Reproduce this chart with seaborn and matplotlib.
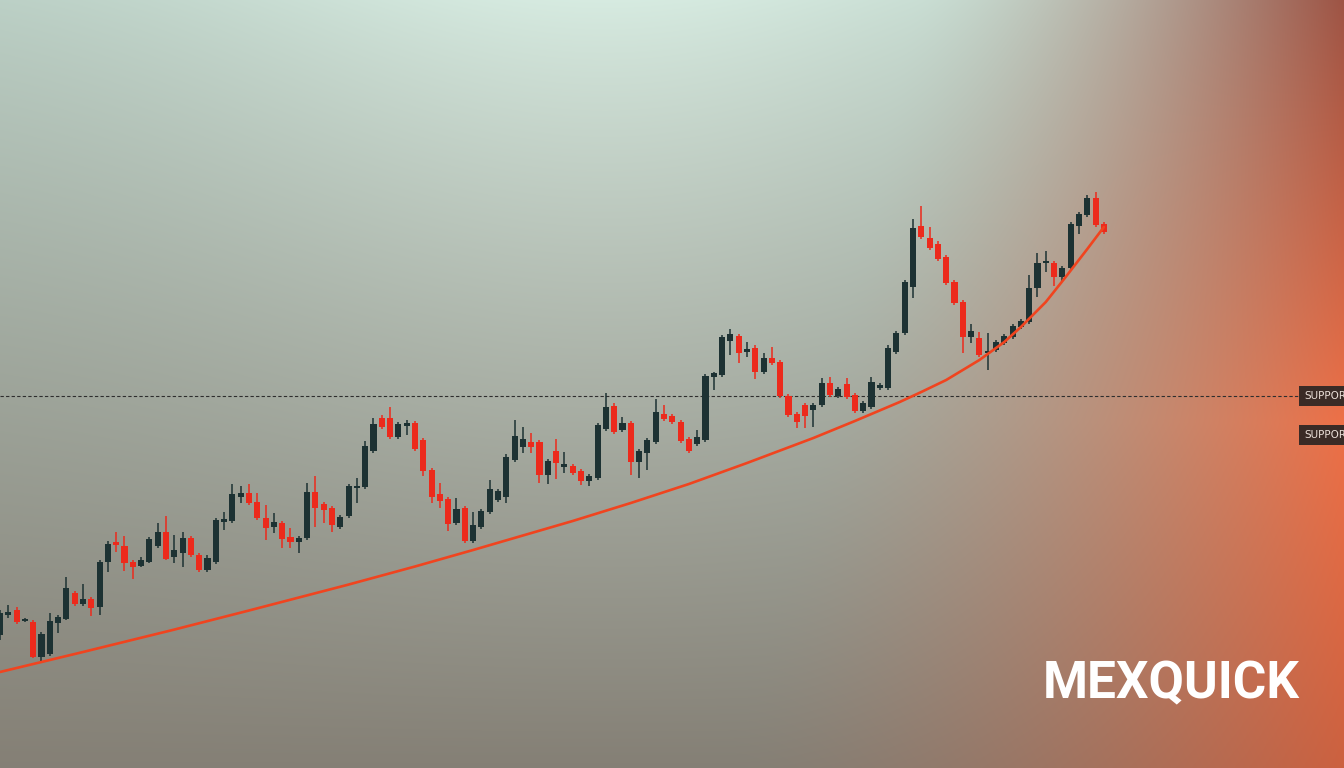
import numpy as np
import pandas as pd
import matplotlib
matplotlib.use("Agg")
import matplotlib.pyplot as plt
import seaborn as sns

# candle values (one per bar, oldest first)
open_ = [165, 185, 190, 179, 178, 143, 146, 177, 181, 207, 196, 201, 193, 238, 258, 254, 238, 234, 238, 254,
         268, 243, 247, 262, 245, 230, 238, 278, 279, 303, 307, 298, 282, 273, 277, 263, 258, 262, 308, 296,
         292, 273, 284, 312, 313, 349, 382, 382, 363, 374, 377, 360, 330, 306, 301, 277, 292, 259, 273, 288,
         300, 303, 340, 353, 358, 358, 325, 349, 333, 334, 329, 319, 322, 371, 394, 370, 377, 338, 347, 358,
         386, 384, 378, 361, 356, 360, 423, 425, 459, 464, 448, 452, 428, 442, 438, 404, 386, 395, 390, 395,
         417, 404, 416, 405, 389, 393, 412, 412, 448, 467, 513, 574, 562, 556, 543, 518, 498, 463, 462, 447,
         450, 457, 463, 473, 478, 512, 537, 537, 523, 532, 574, 585, 602, 576]
high = [190, 195, 193, 182, 180, 168, 187, 185, 223, 209, 216, 203, 240, 259, 268, 264, 240, 243, 263, 277,
        284, 265, 268, 264, 247, 245, 282, 288, 316, 314, 316, 307, 295, 287, 279, 272, 264, 317, 324, 298,
        294, 285, 316, 322, 359, 382, 385, 393, 378, 380, 379, 362, 332, 317, 303, 302, 294, 288, 291, 320,
        311, 346, 380, 373, 367, 360, 341, 361, 348, 336, 331, 326, 377, 407, 397, 383, 379, 351, 362, 401,
        395, 386, 380, 363, 370, 426, 428, 465, 471, 466, 458, 455, 447, 453, 440, 406, 388, 397, 397, 422,
        423, 413, 422, 407, 399, 423, 417, 455, 469, 520, 581, 594, 573, 559, 545, 520, 500, 476, 468, 467,
        460, 466, 476, 481, 525, 547, 549, 539, 534, 578, 588, 605, 608, 578]
low = [160, 182, 176, 178, 142, 138, 144, 167, 180, 194, 194, 184, 185, 228, 248, 229, 221, 233, 237, 252,
       240, 237, 233, 243, 228, 228, 236, 270, 277, 297, 295, 280, 260, 267, 252, 252, 247, 260, 273, 277,
       268, 271, 282, 297, 311, 347, 371, 361, 361, 365, 349, 324, 297, 292, 269, 275, 257, 257, 271, 286,
       298, 297, 338, 347, 347, 317, 316, 321, 327, 325, 315, 314, 320, 369, 366, 368, 325, 322, 330, 356,
       379, 376, 357, 347, 354, 358, 410, 423, 445, 437, 443, 421, 426, 435, 402, 383, 372, 372, 373, 393,
       403, 402, 401, 387, 387, 391, 410, 410, 446, 465, 502, 561, 550, 539, 515, 495, 447, 457, 443, 430,
       448, 455, 461, 471, 476, 503, 528, 514, 518, 530, 566, 583, 573, 566]
close = [187, 188, 178, 181, 143, 166, 179, 183, 212, 196, 201, 192, 238, 256, 255, 237, 233, 240, 261, 268,
         241, 250, 262, 245, 230, 242, 280, 281, 306, 307, 297, 282, 272, 278, 261, 258, 262, 308, 292, 290,
         275, 283, 314, 314, 354, 376, 373, 363, 376, 377, 351, 329, 303, 299, 276, 291, 259, 275, 289, 311,
         309, 343, 364, 361, 353, 325, 339, 337, 336, 327, 319, 324, 375, 393, 368, 377, 338, 349, 360, 388,
         381, 378, 359, 349, 363, 424, 427, 463, 466, 447, 451, 428, 442, 437, 404, 385, 378, 384, 395, 417,
         405, 411, 403, 389, 397, 418, 415, 452, 467, 518, 572, 563, 552, 541, 517, 497, 463, 469, 445, 449,
         458, 464, 474, 479, 512, 537, 538, 523, 532, 576, 586, 602, 575, 568]

# rising support curve (bar index, value)
trend_idx = [0, 10, 20.8, 30, 41.8, 50, 57, 69, 76, 83, 90, 98, 103, 108.4, 111, 114, 118, 121, 123, 126,
             128.3, 131, 133]
trend_val = [128, 148, 170, 189.5, 215, 233.5, 250, 279, 297, 316, 337, 362, 379, 398, 408, 420, 440, 458,
             473, 498, 522, 551, 573]

support_levels = [404, 365]
support_labels = ["SUPPORT", "SUPPORT"]
brand = "MEXQUICK"

sns.set_theme(style="white")
plt.rcParams['font.family'] = ['Roboto', 'DejaVu Sans']

df = pd.DataFrame({"open": open_, "high": high, "low": low, "close": close})
df["idx"] = np.arange(len(df))
df["up"] = df["close"] >= df["open"]

UP = "#1d3233"
DOWN = "#ec2a1c"

fig = plt.figure(figsize=(13.44, 7.68), dpi=100)
ax = fig.add_axes([0, 0, 1, 1])
x_lo, x_hi = 0, 1344 / 8.3
y_lo, y_hi = 32, 800

# background gradient: mint top, grey bottom, orange glow on the right
H, W = 384, 672
v, u = np.mgrid[0:1:H * 1j, 0:1:W * 1j]
top_left = np.array([0.72, 0.80, 0.76])
top_mid = np.array([0.84, 0.92, 0.88])
bottom = np.array([0.52, 0.50, 0.46])
spot = np.exp(-((u - 0.45) / 0.32) ** 2)[..., None]
top = top_left * (1 - spot) + top_mid * spot
t = (v ** 0.9)[..., None]
bg = top * (1 - t) + bottom * t
o_top = np.array([0.62, 0.33, 0.27])
o_mid = np.array([0.93, 0.44, 0.28])
o_bot = np.array([0.80, 0.38, 0.25])
a = np.clip(v / 0.55, 0, 1)[..., None]
b = np.clip((v - 0.55) / 0.45, 0, 1)[..., None]
orange = np.where(v[..., None] < 0.55, o_top * (1 - a) + o_mid * a, o_mid * (1 - b) + o_bot * b)
start = 0.68 - 0.14 * v
w = (np.clip((u - start) / (1 - start), 0, 1) ** 1.6)[..., None]
bg = bg * (1 - w) + orange * w
ax.imshow(bg, extent=(x_lo, x_hi, y_lo, y_hi), aspect="auto", zorder=0, interpolation="bilinear")

colors = np.where(df["up"], UP, DOWN)
ax.vlines(df["idx"], df["low"], df["high"], colors=colors, lw=1.1, zorder=2)
body_h = (df["close"] - df["open"]).abs().clip(lower=2)
body_b = df[["open", "close"]].min(axis=1)
ax.bar(df["idx"], body_h, bottom=body_b, width=0.74, color=colors, linewidth=0, zorder=3)

sns.lineplot(x=trend_idx, y=trend_val, ax=ax, color="#f0441f", lw=1.9, zorder=4)

ax.axhline(support_levels[0], xmin=0, xmax=1298 / 1344, color="#2e2e2e", lw=0.8, dashes=(3, 2), zorder=1)
for lvl, lab in zip(support_levels, support_labels):
    ax.text(1304 / 8.3, lvl, lab, fontsize=7.5, color="#eadfd8", ha="left", va="center",
            family=["DejaVu Sans Condensed", "DejaVu Sans"],
            bbox=dict(boxstyle="square,pad=0.45", fc="#3a2b26", ec="none"), zorder=6)

ax.text(1300 / 8.3, 102, brand, fontsize=37, fontweight="bold", color="white",
        ha="right", va="baseline", zorder=6)

ax.set_xlim(x_lo, x_hi)
ax.set_ylim(y_lo, y_hi)
ax.axis("off")
fig.savefig("out.png", dpi=100)
